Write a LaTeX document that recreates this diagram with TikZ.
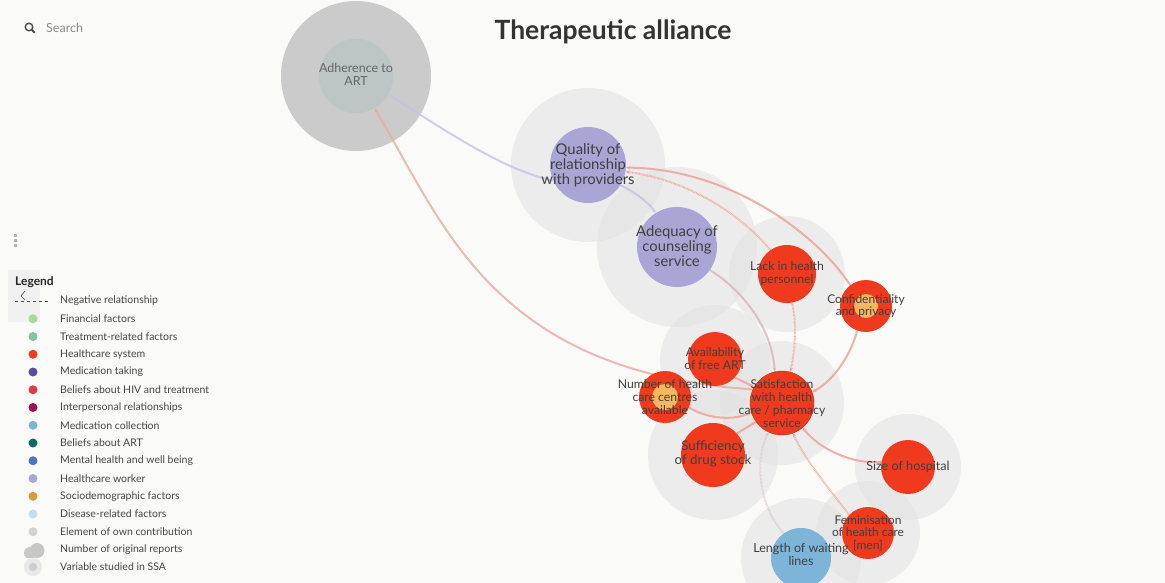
\documentclass[tikz,border=0pt]{standalone}
\usepackage{fontspec}
\setmainfont{Lato}
\usetikzlibrary{arrows.meta}
\definecolor{bgc}{HTML}{FAFAF9}
\definecolor{haloc}{HTML}{E2E2E2}
\definecolor{hcred}{HTML}{F03A1E}
\definecolor{orangec}{HTML}{F5B860}
\definecolor{lav}{HTML}{A9A5D4}
\definecolor{ltblue}{HTML}{7DB5D8}
\definecolor{adhout}{HTML}{CBCBCB}
\definecolor{adhin}{HTML}{BDC6C5}
\definecolor{edgelav}{HTML}{C6C3DE}
\definecolor{edgepink}{HTML}{EE9E92}
\definecolor{edgemix}{HTML}{D6B6BA}
\definecolor{edgegray}{HTML}{D9C9C9}
\definecolor{labc}{HTML}{3F3F3F}
\definecolor{legc}{HTML}{444444}
\definecolor{cFin}{HTML}{A8D89A}
\definecolor{cTreat}{HTML}{7CC79E}
\definecolor{cHealth}{HTML}{F23C1D}
\definecolor{cMed}{HTML}{5A4DA0}
\definecolor{cBel}{HTML}{DE3B48}
\definecolor{cInter}{HTML}{A0124A}
\definecolor{cColl}{HTML}{7DB5D8}
\definecolor{cArt}{HTML}{0E6B62}
\definecolor{cMental}{HTML}{4A78C0}
\definecolor{cWorker}{HTML}{A9A5D4}
\definecolor{cSocio}{HTML}{D99A3A}
\definecolor{cDis}{HTML}{C5DCEF}
\definecolor{cOwn}{HTML}{D3D3D3}
\pgfdeclarelayer{halolayer}
\pgfdeclarelayer{edgelayer}
\pgfsetlayers{halolayer,edgelayer,main}
\tikzset{
  halo/.style={circle, fill=haloc, fill opacity=0.55, minimum size=#1, inner sep=0pt},
  hcnode/.style={circle, fill=hcred, minimum size=#1, inner sep=0pt},
  lavnode/.style={circle, fill=lav, minimum size=#1, inner sep=0pt},
  orangedot/.style={circle, fill=orangec, minimum size=#1, inner sep=0pt},
  lbl/.style={align=center, text=labc, inner sep=0pt, font=\fontsize{12.2}{13}\selectfont},
  biglbl/.style={align=center, text=labc, inner sep=0pt, font=\fontsize{14.8}{15}\selectfont},
  conn/.style={line width=2pt, draw opacity=0.8, -{Stealth[length=4pt,width=3.5pt]}},
  dotconn/.style={conn, dash pattern=on 0.7pt off 0.7pt},
  legtext/.style={anchor=west, text=legc, inner sep=0pt, font=\fontsize{10.5}{12}\selectfont},
  legdot/.style={circle, minimum size=9pt, inner sep=0pt},
}
\begin{document}
\begin{tikzpicture}[x=1pt,y=-1pt]
\useasboundingbox (0,0) rectangle (1165,583);
\begin{pgfonlayer}{halolayer}
\fill[bgc] (0,0) rectangle (1165,583);
% halos
\node[halo=154pt] (qualh) at (588,165) {};
\node[halo=160pt] (adeqh) at (677,247) {};
\node[halo=116pt] (lackh) at (787,274) {};
\node[halo=110pt] (availh) at (715,360) {};
\node[halo=130pt] (suffh) at (713,455) {};
\node[halo=124pt] (sath) at (782,403) {};
\node[halo=106pt] (sizeh) at (908,467) {};
\node[halo=104pt] (femh) at (868,533) {};
\node[halo=120pt] (waith) at (801,558) {};
\node[circle, fill=adhout, minimum size=150pt, inner sep=0pt] (adhh) at (356,76) {};
\end{pgfonlayer}

% nodes
\node[circle, fill=adhin, minimum size=74pt, inner sep=0pt] (adh) at (356,76) {};
\node[lavnode=76pt] (qual) at (588,165) {};
\node[lavnode=80pt] (adeq) at (677,247) {};
\node[hcnode=58pt] (lack) at (787,274) {};
\node[hcnode=52pt] (conf) at (866,306) {};
\node[orangedot=24pt] (confo) at (866,306) {};
\node[hcnode=54pt] (avail) at (715,359) {};
\node[hcnode=52pt] (numb) at (665,397) {};
\node[orangedot=26pt] (numbo) at (665,397) {};
\node[hcnode=64pt, draw=hcred!80!black, line width=0.4pt] (sat) at (782,403) {};
\node[hcnode=64pt] (suff) at (713,455) {};
\node[hcnode=54pt] (size) at (908,467) {};
\node[hcnode=52pt] (fem) at (868,533) {};
\node[circle, fill=ltblue, minimum size=60pt, inner sep=0pt] (wait) at (801,558) {};

% connectors
\begin{pgfonlayer}{edgelayer}
\draw[conn, edgelav] (qual.204) .. controls (500,170) and (430,120) .. (adh.330);
\draw[conn, edgelav] (qual.328) .. controls (635,192) and (648,202) .. (adeq.122);
\draw[conn, edgemix] (adeq.325) .. controls (745,292) and (772,330) .. (sat.103);
\draw[conn, edgepink!70!edgegray] (sat.155) .. controls (494,372) and (445,227) .. (adh.300);
\draw[conn, edgepink] (numb.336) .. controls (710,420) and (735,420) .. (sat.197);
\draw[conn, edgepink] (avail.317) -- (sat.150);
\draw[conn, edgepink] (suff.42) -- (sat.216);
\draw[conn, edgepink] (size.169) .. controls (855,465) and (820,450) .. (sat.310);
\draw[dotconn, edgepink] (fem.136) .. controls (830,490) and (805,460) .. (sat.290);
\draw[dotconn, edgegray] (wait.125) .. controls (758,505) and (755,460) .. (sat.245);
\draw[dotconn, edgepink] (lack.280) .. controls (797,325) and (795,350) .. (sat.75);
\draw[conn, edgepink] (conf.250) .. controls (852,352) and (835,380) .. (sat.20);
\draw[conn, edgepink] (conf.127) .. controls (810,225) and (720,168) .. (qual.356);
\draw[dotconn, edgepink] (lack.125) .. controls (745,218) and (690,180) .. (qual.350);
\end{pgfonlayer}

% labels
\node[lbl, font=\fontsize{12.5}{13}\selectfont, text=black!60] (adhl) at (356,74) {Adherence to\\ART};
\node[biglbl] (quall) at (588,165) {Quality of\\relationship\\with providers};
\node[biglbl] (adeql) at (677,246) {Adequacy of\\counseling\\service};
\node[lbl] (lackl) at (787,274) {Lack in health\\personnel};
\node[lbl, font=\fontsize{12}{12.5}\selectfont] (confl) at (866,306) {Confidentiality\\and privacy};
\node[lbl] (availl) at (715,359) {Availability\\of free ART};
\node[lbl] (numbl) at (665,397) {Number of health\\care centres\\available};
\node[lbl] (satl) at (782,404) {Satisfaction\\with health\\care / pharmacy\\service};
\node[lbl, font=\fontsize{13.3}{14}\selectfont] (suffl) at (713,454) {Sufficiency\\of drug stock};
\node[lbl, font=\fontsize{12.6}{13}\selectfont] (sizel) at (908,467) {Size of hospital};
\node[lbl, font=\fontsize{12}{12.5}\selectfont] (feml) at (868,533) {Feminisation\\of health care\\{[men]}};
\node[lbl, font=\fontsize{12.5}{13}\selectfont] (waitl) at (801,554) {Length of waiting\\lines};

% title
\node[text=black!80, font=\bfseries\fontsize{26.5}{30}\selectfont] (title) at (613,32) {Therapeutic alliance};

% search
\draw[black!70, line width=1.4pt] (29,27) circle (3.8pt);
\draw[black!70, line width=1.8pt, line cap=round] (31.8,29.8) -- (34.5,32.5);
\node[anchor=west, text=black!45, inner sep=0pt, font=\fontsize{12.5}{14}\selectfont] (search) at (46,28) {Search};

% side handle dots
\foreach \yy in {235,240,245} \fill[black!30] (13.5,\yy-1.5) rectangle (16.5,\yy+1.5);

% legend
\fill[black!6] (8,270) rectangle (40,322);
\node[anchor=west, text=black!85, inner sep=0pt, font=\bfseries\fontsize{12}{13}\selectfont] (legtitle) at (15,282) {Legend};
\draw[black!70, line width=0.7pt] (25,291) -- (21,296) -- (25,300);
\draw[black!70, line width=0.9pt, dash pattern=on 3pt off 3pt] (15,301) -- (49,301);
\node[legtext] (l0) at (60,301) {Negative relationship};
\foreach \c/\t [count=\i] in {cFin/Financial factors, cTreat/Treatment-related factors, cHealth/Healthcare system, cMed/Medication taking, cBel/Beliefs about HIV and treatment, cInter/Interpersonal relationships, cColl/Medication collection, cArt/Beliefs about ART, cMental/Mental health and well being, cWorker/Healthcare worker, cSocio/Sociodemographic factors, cDis/Disease-related factors, cOwn/Element of own contribution}{
  \node[legdot, fill=\c] (d\i) at (33,301+17.75*\i) {};
  \node[legtext] (l\i) at (60,301+17.75*\i) {\t};
}
\begin{scope}
\clip (20,540) rectangle (46,557.5);
\fill[black!22] (30,553) circle (6pt);
\fill[black!22] (37,550.5) circle (7.5pt);
\end{scope}
\node[legtext] (l14) at (60,549.5) {Number of original reports};
\node[circle, fill=black!9, minimum size=18pt, inner sep=0pt] (d15o) at (33,567) {};
\node[circle, fill=black!20, minimum size=8pt, inner sep=0pt] (d15) at (33,567) {};
\node[legtext] (l15) at (60,567) {Variable studied in SSA};
\end{tikzpicture}
\end{document}
